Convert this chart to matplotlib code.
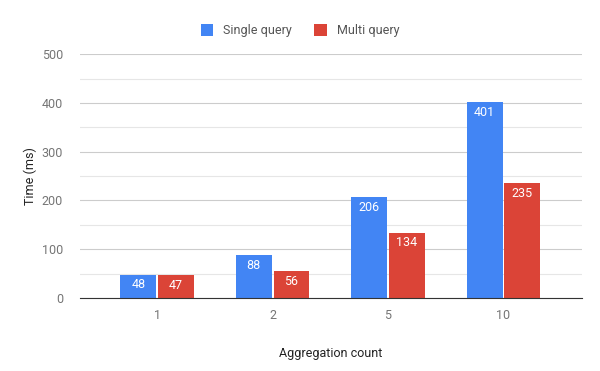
import matplotlib
matplotlib.use("Agg")
import matplotlib.pyplot as plt
import numpy as np

plt.rcParams['font.family'] = ['Roboto', 'DejaVu Sans']

# données
categories = ['1', '2', '5', '10']
single_query = [48, 88, 206, 401]
multi_query = [47, 56, 134, 235]

blue = '#4285F4'
red = '#DB4437'

fig = plt.figure(figsize=(6, 3.71), dpi=100)
ax = fig.add_axes([0.133, 0.197, 0.837, 0.657])

x = np.arange(len(categories))
w = 0.31
b1 = ax.bar(x - w / 2 - 0.008, single_query, w, color=blue, label='Single query', zorder=3)
b2 = ax.bar(x + w / 2 + 0.008, multi_query, w, color=red, label='Multi query', zorder=3)

# étiquettes dans les barres
for bars, vals in [(b1, single_query), (b2, multi_query)]:
    for rect, v in zip(bars, vals):
        ax.text(rect.get_x() + rect.get_width() / 2, v - 8, str(v),
                ha='center', va='top', color='white', fontsize=9, zorder=4)

ax.set_xlim(-0.67, 3.68)
ax.set_ylim(0, 500)
ax.set_yticks([0, 100, 200, 300, 400, 500])
ax.set_yticks([50, 150, 250, 350, 450], minor=True)
ax.set_xticks(x)
ax.set_xticklabels(categories)
ax.grid(axis='y', which='major', color='#cccccc', linewidth=0.8, zorder=0)
ax.grid(axis='y', which='minor', color='#e6e6e6', linewidth=0.8, zorder=0)
for s in ['top', 'right', 'left']:
    ax.spines[s].set_visible(False)
ax.spines['bottom'].set_color('#333333')
ax.spines['bottom'].set_zorder(5)
ax.tick_params(axis='both', which='both', length=0, labelsize=9, colors='#757575', pad=8)
ax.tick_params(axis='y', pad=12)

ax.set_xlabel('Aggregation count', fontsize=9, color='#222222', labelpad=18)
ax.set_ylabel('Time (ms)', fontsize=9, color='#222222')
ax.yaxis.set_label_coords(-0.085, 0.5)

fig.legend(loc='upper center', bbox_to_anchor=(0.5, 0.965), ncol=2, frameon=False,
           fontsize=9, handlelength=1.0, handleheight=1.0, columnspacing=1.8,
           labelcolor='#555555')

plt.savefig('out.png', dpi=100)
